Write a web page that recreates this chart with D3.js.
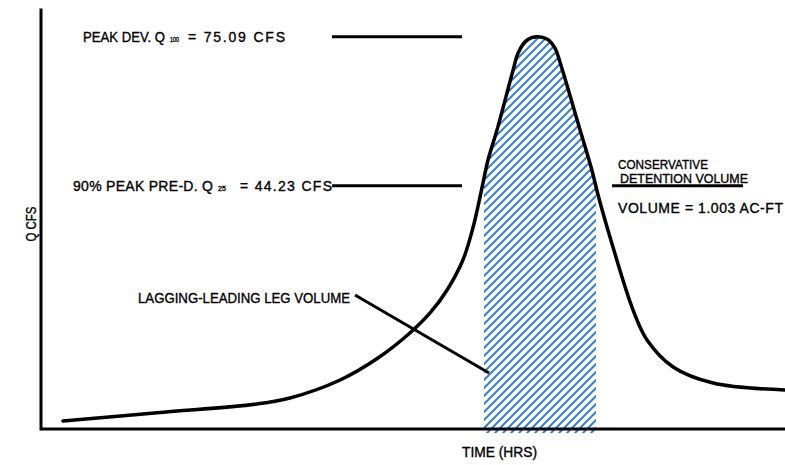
<!DOCTYPE html>
<html>
<head>
<meta charset="utf-8">
<script src="https://cdn.jsdelivr.net/npm/d3@7"></script>
<style>
  html, body { margin: 0; padding: 0; background: #fff; }
  svg text { font-family: "Liberation Sans", Arial, sans-serif; fill: #000; stroke: #000; stroke-width: 0.35; }
</style>
</head>
<body>
<div class="chart"></div>
<script>
// hydrograph (hours, cfs)
const timeHrs = [0.71, 3.84, 6.97, 8.03, 9.65, 10.87, 11.90, 12.55, 13.10, 13.61, 13.94, 14.19, 14.42, 14.71,
  15.23, 15.39, 15.68, 16.00, 16.32, 16.58, 16.74, 17.39, 17.77, 17.97, 18.45, 19.10, 19.55, 20.39, 21.68, 24.00];
const flowCfs = [-4.51, -2.75, -0.98, 0.26, 3.99, 8.54, 13.72, 17.87, 22.63, 28.84, 35.68, 42.72, 49.55, 55.77,
  68.19, 71.72, 74.41, 75.09, 74.62, 72.75, 69.85, 55.77, 47.48, 42.30, 31.53, 18.48, 12.27, 6.68, 3.36, 1.91];

const peakDevQ = 75.09;
const preDevQ = 44.23;
const volumeAcFt = 1.003;
const detentionWindow = [14.29, 17.90];   // hrs, hatched part

const peakLabel = ["PEAK DEV. Q", "100", "= " + peakDevQ.toFixed(2) + " CFS"];
const preLabel = ["90% PEAK PRE-D. Q", "25", "= " + preDevQ.toFixed(2) + " CFS"];
const detentionLabels = ["CONSERVATIVE", "DETENTION VOLUME", "VOLUME = " + volumeAcFt.toFixed(3) + " AC-FT"];
const legLabel = "LAGGING-LEADING LEG VOLUME";
const xTitle = "TIME (HRS)";
const yTitle = "Q CFS";

const width = 785, height = 465;
const data = timeHrs.map((t, i) => ({t: t, q: flowCfs[i]}));

const svg = d3.select(".chart").append("svg")
  .attr("width", width)
  .attr("height", height);

const x = d3.scaleLinear().domain([0, 24]).range([41, 785]);
const y = d3.scaleLinear().domain([-6.37, 81.04]).range([430, 8]);

// hatch pattern
const defs = svg.append("defs");
defs.append("pattern")
  .attr("id", "hatch")
  .attr("patternUnits", "userSpaceOnUse")
  .attr("width", 8)
  .attr("height", 8)
  .append("path")
  .attr("d", "M-1,1 l2,-2 M0,8 l8,-8 M7,9 l2,-2")
  .attr("stroke", "#3580c8")
  .attr("stroke-width", 2);

defs.append("clipPath")
  .attr("id", "window")
  .append("rect")
  .attr("x", x(detentionWindow[0]))
  .attr("y", 0)
  .attr("width", x(detentionWindow[1]) - x(detentionWindow[0]))
  .attr("height", height);

const curve = d3.curveCatmullRom.alpha(0.5);

let area = d3.area()
  .x(d => x(d.t))
  .y0(y.range()[0] + 3)
  .y1(d => y(d.q))
  .curve(curve);

svg.append("path")
  .datum(data)
  .attr("clip-path", "url(#window)")
  .attr("fill", "url(#hatch)")
  .attr("d", area);

// axes (lines only)
let xAxisGroup = svg.append("g").attr("transform", "translate(0,428.5)");
xAxisGroup.call(d3.axisBottom(x).tickValues([]).tickSizeOuter(0));
let yAxisGroup = svg.append("g").attr("transform", "translate(40.5,0)");
yAxisGroup.call(d3.axisLeft(y).tickValues([]).tickSizeOuter(0));
svg.selectAll(".domain").attr("stroke", "#000").attr("stroke-width", 3);

// hydrograph
let line = d3.line()
  .x(d => x(d.t))
  .y(d => y(d.q))
  .curve(curve);

svg.append("path")
  .datum(data)
  .attr("fill", "none")
  .attr("stroke", "#000")
  .attr("stroke-width", 3.5)
  .attr("stroke-linejoin", "round")
  .attr("stroke-linecap", "round")
  .attr("d", line);

// leader lines
function leader(x1, y1, x2, y2) {
  svg.append("line")
    .attr("x1", x1).attr("y1", y1)
    .attr("x2", x2).attr("y2", y2)
    .attr("stroke", "#000")
    .attr("stroke-width", 3);
}
leader(332, y(peakDevQ), 462, y(peakDevQ));
leader(332, y(preDevQ), 462, y(preDevQ));
leader(612, y(preDevQ), 743, y(preDevQ));
leader(355, 295, 489, 373);

// CAD-ish lettering: squeeze glyphs when too wide, widen spacing when too narrow
function label(txt, px, py, len, size) {
  let t = svg.append("text")
    .attr("x", px)
    .attr("y", py)
    .attr("font-size", size || 14)
    .text(txt);
  if (len) {
    let natural = t.node().getComputedTextLength();
    t.attr("textLength", len)
      .attr("lengthAdjust", natural > len ? "spacingAndGlyphs" : "spacing");
  }
  return t;
}

// Q labels with subscripts
label(peakLabel[0], 83, 42, 82);
label(peakLabel[1], 170, 42, 9, 7).attr("stroke-width", 0.6);
label(peakLabel[2], 188, 42, 97);

label(preLabel[0], 73, 191, 140);
label(preLabel[1], 218, 191, 8, 7).attr("stroke-width", 0.6);
label(preLabel[2], 240, 191, 92);

label(detentionLabels[0], 618, 169, 90, 12.5);
label(detentionLabels[1], 620, 183, 128, 12.5);
label(detentionLabels[2], 618, 213, 165);

label(legLabel, 138, 303, 212);

label(xTitle, 462, 457, 75);

svg.append("text")
  .attr("transform", "translate(36,224) rotate(-90)")
  .attr("text-anchor", "middle")
  .attr("font-size", 14)
  .attr("textLength", 35)
  .attr("lengthAdjust", "spacingAndGlyphs")
  .text(yTitle);
</script>
</body>
</html>
